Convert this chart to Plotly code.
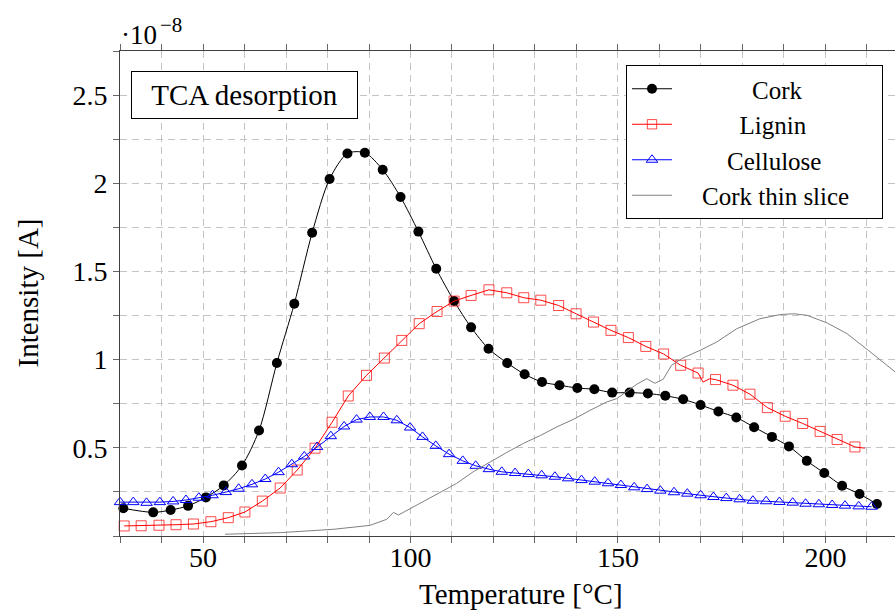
import plotly.graph_objects as go

# ---------------- data (intensity in units of 1e-8 A) ----------------
cork_T = [30.8, 38.0, 42.2, 46.4, 50.7, 55.0, 59.4, 63.5, 67.8, 72.0, 76.3, 80.5, 84.8, 89.0,
          93.3, 97.6, 101.9, 106.2, 110.5, 114.6, 118.8, 123.3, 127.5, 131.7, 135.9, 140.2,
          144.3, 148.6, 152.8, 157.2, 161.4, 165.7, 169.9, 174.2, 178.5, 182.8, 187.1, 191.2,
          195.5, 199.7, 204.0, 208.2, 212.4]
cork_I = [0.157, 0.134, 0.147, 0.171, 0.219, 0.287, 0.400, 0.598, 0.981, 1.317, 1.719, 2.024,
          2.169, 2.173, 2.077, 1.922, 1.726, 1.515, 1.332, 1.183, 1.062, 0.981, 0.917, 0.873,
          0.855, 0.839, 0.832, 0.813, 0.813, 0.808, 0.795, 0.775, 0.743, 0.706, 0.672, 0.617,
          0.562, 0.508, 0.426, 0.357, 0.285, 0.238, 0.181]

lignin_T = [31.0, 35.1, 39.4, 43.5, 47.7, 51.9, 56.1, 60.1, 64.3, 68.6, 72.7, 77.0, 81.1, 85.0,
            89.4, 93.7, 97.9, 102.1, 106.4, 110.5, 114.6, 118.9, 123.2, 127.3, 131.4, 135.7,
            139.9, 144.1, 148.3, 152.5, 156.7, 161.0, 165.1, 169.3, 170.5, 172.1, 173.5, 177.7,
            181.8, 186.0, 190.3, 194.5, 198.7, 202.8, 207.1, 209.5]
lignin_I = [0.057, 0.058, 0.061, 0.064, 0.068, 0.081, 0.104, 0.136, 0.198, 0.272, 0.374, 0.498,
            0.645, 0.794, 0.911, 1.009, 1.109, 1.204, 1.273, 1.332, 1.364, 1.396, 1.379, 1.351,
            1.337, 1.307, 1.260, 1.213, 1.166, 1.125, 1.075, 1.032, 0.968, 0.924, 0.873, 0.892,
            0.887, 0.855, 0.804, 0.728, 0.679, 0.638, 0.593, 0.547, 0.505, 0.498]
lignin_unmarked = [34, 35, 45]   # samples drawn on the line only

cell_T = [30.0, 33.2, 36.4, 39.6, 42.8, 45.9, 49.0, 52.3, 55.5, 58.6, 61.8, 65.0, 68.2, 71.4,
          74.4, 77.5, 80.8, 84.0, 87.0, 90.2, 93.5, 96.7, 99.9, 102.9, 106.1, 109.3, 112.6,
          115.7, 118.9, 122.0, 125.2, 128.4, 131.6, 134.8, 138.0, 141.2, 144.4, 147.6, 150.7,
          153.9, 157.0, 160.2, 163.5, 166.7, 169.9, 173.0, 176.1, 179.3, 182.5, 185.7, 188.9,
          192.1, 195.2, 198.4, 201.6, 204.7, 208.0, 211.1]
cell_I = [0.192, 0.192, 0.188, 0.192, 0.196, 0.204, 0.217, 0.231, 0.249, 0.268, 0.293, 0.323,
          0.362, 0.407, 0.451, 0.505, 0.566, 0.621, 0.660, 0.675, 0.675, 0.656, 0.615, 0.562,
          0.511, 0.464, 0.426, 0.398, 0.379, 0.364, 0.357, 0.351, 0.344, 0.336, 0.327, 0.317,
          0.308, 0.299, 0.289, 0.276, 0.266, 0.257, 0.248, 0.240, 0.231, 0.221, 0.215, 0.208,
          0.200, 0.197, 0.193, 0.189, 0.183, 0.180, 0.176, 0.172, 0.168, 0.166]

slice_T = [55.3, 68.6, 81.4, 90.2, 94.3, 95.9, 97.1, 107.1, 111.1, 115.1, 119.1, 123.2, 127.2,
           131.3, 135.3, 139.3, 143.3, 147.3, 149.7, 152.1, 154.5, 156.9, 158.9, 160.9, 162.9,
           165.7, 169.8, 173.8, 178.6, 184.2, 189.2, 192.4, 195.6, 200.4, 205.2, 210.3, 216.8]
slice_I = [0.010, 0.019, 0.038, 0.060, 0.095, 0.134, 0.119, 0.245, 0.298, 0.364, 0.420, 0.474,
           0.525, 0.570, 0.619, 0.662, 0.713, 0.760, 0.779, 0.822, 0.860, 0.892, 0.866, 0.889,
           0.968, 1.010, 1.053, 1.100, 1.175, 1.232, 1.256, 1.260, 1.251, 1.208, 1.147, 1.053,
           0.930]

x_ticks = [50, 100, 150, 200]
y_ticks = [0.5, 1, 1.5, 2, 2.5]
y_ticklabels = ["0.5", "1", "1.5", "2", "2.5"]

series_names = ["Cork", "Lignin", "Cellulose", "Cork thin slice"]

# ---------------- figure ----------------
FONT = "Liberation Serif"
NB = "\u00a0"


def centered(name, pad):
    return NB * pad + name + NB * pad


fig = go.Figure()
fig.add_trace(go.Scatter(
    x=cork_T, y=cork_I, name=centered(series_names[0], 12), mode="lines+markers",
    line=dict(color="black", width=1, shape="spline", smoothing=0.8),
    marker=dict(symbol="circle", size=10, color="black"), cliponaxis=False))

lig_sizes = [0 if i in lignin_unmarked else 10 for i in range(len(lignin_T))]
fig.add_trace(go.Scatter(
    x=lignin_T, y=lignin_I, name=centered(series_names[1], 10), mode="lines+markers",
    line=dict(color="#ff0000", width=1),
    marker=dict(symbol="square-open", size=lig_sizes, color="#ff0000", line=dict(width=1)),
    cliponaxis=False))

fig.add_trace(go.Scatter(
    x=cell_T, y=cell_I, name=centered(series_names[2], 8), mode="lines+markers",
    line=dict(color="#0000ff", width=1),
    marker=dict(symbol="triangle-up-open", size=10, color="#0000ff", line=dict(width=1)),
    cliponaxis=False))

fig.add_trace(go.Scatter(
    x=slice_T, y=slice_I, name=centered(series_names[3], 4), mode="lines",
    line=dict(color="#808080", width=1)))

GRID = "#c4c4c4"
DASH = "7px,5px"
AX = "#404040"

fig.update_xaxes(
    range=[30, 216.75], tickvals=x_ticks, ticks="outside", ticklen=6, tickcolor="#666",
    showline=True, linecolor=AX, linewidth=1, mirror="ticks",
    showgrid=True, gridcolor=GRID, griddash=DASH, gridwidth=1, zeroline=False,
    tickfont=dict(family=FONT, size=28, color="black"), ticklabelstandoff=-10,
    minor=dict(dtick=10, tick0=0, ticks="outside", ticklen=6, tickcolor="#666",
               showgrid=True, gridcolor=GRID, griddash=DASH, gridwidth=1))
fig.update_yaxes(
    range=[0, 2.75], tickvals=y_ticks, ticktext=y_ticklabels, ticks="outside", ticklen=6,
    tickcolor="#666", showline=True, linecolor=AX, linewidth=1, mirror=False,
    showgrid=True, gridcolor=GRID, griddash=DASH, gridwidth=1, zeroline=False,
    tickfont=dict(family=FONT, size=28, color="black"), ticklabelstandoff=0,
    minor=dict(dtick=0.25, tick0=0, ticks="outside", ticklen=6, tickcolor="#666",
               showgrid=True, gridcolor=GRID, griddash=DASH, gridwidth=1))

W, H = 895, 614
L, R, T, B = 120, 0, 51, 78
pw, ph = W - L - R, H - T - B


def px_x(p):
    return (p - L) / pw


def px_y(p):
    return (H - B - p) / ph


fig.update_layout(
    width=W, height=H, margin=dict(l=L, r=R, t=T, b=B, pad=0),
    paper_bgcolor="white", plot_bgcolor="white",
    font=dict(family=FONT, size=28, color="black"),
    showlegend=True,
    legend=dict(x=px_x(883), y=px_y(65), xanchor="right", yanchor="top",
                bgcolor="white", bordercolor="black", borderwidth=1,
                font=dict(family=FONT, size=25, color="black"),
                tracegroupgap=0, itemwidth=40),
    annotations=[
        dict(text="Intensity [A]", x=px_x(27), y=0.5, xref="paper", yref="paper",
             textangle=-90, showarrow=False, xanchor="center", yanchor="middle",
             font=dict(family=FONT, size=29)),
        dict(text="Temperature [°C]", x=px_x(520.5), y=px_y(594), xref="paper", yref="paper",
             showarrow=False, xanchor="center", yanchor="middle",
             font=dict(family=FONT, size=29)),
        dict(text="·10", x=px_x(119), y=px_y(35), xref="paper", yref="paper",
             showarrow=False, xanchor="left", yanchor="middle",
             font=dict(family=FONT, size=27)),
        dict(text="−8", x=px_x(158), y=px_y(25), xref="paper", yref="paper",
             showarrow=False, xanchor="left", yanchor="middle",
             font=dict(family=FONT, size=21)),
        dict(text="TCA desorption", x=px_x(244.3), y=px_y(95), xref="paper", yref="paper",
             showarrow=False, xanchor="center", yanchor="middle",
             width=217, height=38, borderpad=4, bordercolor="black", borderwidth=1,
             bgcolor="white", font=dict(family=FONT, size=29)),
    ],
)

fig.write_html("out.html", config={"displayModeBar": False},
               post_script="document.body.style.margin='0';document.body.style.overflow='hidden';")
